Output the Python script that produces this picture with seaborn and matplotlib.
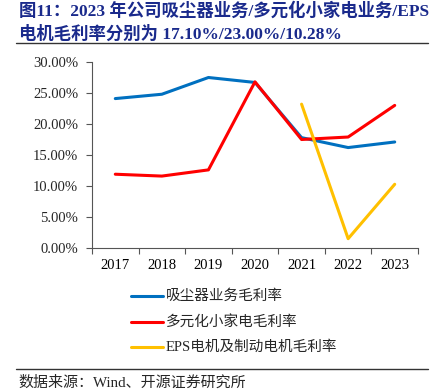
import numpy as np
import pandas as pd
import matplotlib
matplotlib.use('Agg')
import matplotlib.pyplot as plt
import seaborn as sns
from matplotlib.ticker import FuncFormatter, FixedLocator

years = ['2017', '2018', '2019', '2020', '2021', '2022', '2023']
vacuum = [24.1, 24.8, 27.5, 26.7, 17.8, 16.2, 17.10]
appliance = [11.9, 11.6, 12.6, 26.8, 17.5, 17.9, 23.00]
eps = [np.nan, np.nan, np.nan, np.nan, 23.2, 1.5, 10.28]
series_names = ['吸尘器业务毛利率', '多元化小家电毛利率', 'EPS电机及制动电机毛利率']
colors = ['#0070C0', '#FF0000', '#FFC000']

title = '图11：2023 年公司吸尘器业务/多元化小家电业务/EPS\n电机毛利率分别为 17.10%/23.00%/10.28%'
source = '数据来源：Wind、开源证券研究所'

sns.set_theme(style='white')
plt.rcParams['font.family'] = ['Liberation Serif', 'Noto Sans CJK SC']

df = pd.DataFrame({'year': years, series_names[0]: vacuum,
                   series_names[1]: appliance, series_names[2]: eps})
long = df.melt(id_vars='year', var_name='series', value_name='rate')
long['x'] = long['year'].map({y: i for i, y in enumerate(years)})

fig = plt.figure(figsize=(4.45, 3.91), dpi=100)
ax = fig.add_axes([92 / 445, 1 - 248 / 391, 326 / 445, 186 / 391])

sns.lineplot(data=long, x='x', y='rate', hue='series', hue_order=series_names,
             palette=colors, linewidth=2.2, ax=ax, legend=False)

ax.set_xlim(-0.5, len(years) - 0.5)
ax.set_ylim(0, 30)
ax.set_yticks(np.arange(0, 30.1, 5))
ax.yaxis.set_major_formatter(FuncFormatter(lambda v, p: f'{v:.2f}%'))
ax.set_xticks(range(len(years)))
ax.set_xticklabels(years)
ax.xaxis.set_minor_locator(FixedLocator(np.arange(-0.5, len(years), 1)))
ax.tick_params(axis='x', which='major', length=0, labelsize=10.5, pad=8, colors='black')
ax.tick_params(axis='x', which='minor', length=4, width=0.8, color='#555555', direction='out')
ax.tick_params(axis='y', length=4, width=0.8, color='#555555', labelsize=10.5, direction='out', pad=6)
ax.xaxis.set_tick_params(bottom=True, which='minor')
ax.yaxis.set_tick_params(left=True)
ax.set_xlabel('')
ax.set_ylabel('')
for s in ['top', 'right']:
    ax.spines[s].set_visible(False)
for s in ['left', 'bottom']:
    ax.spines[s].set_color('#555555')
    ax.spines[s].set_linewidth(0.8)

# title
fig.text(19 / 445, 0.995, title, ha='left', va='top', fontsize=12.5, fontweight='bold',
         color='#1A2A8C', linespacing=1.45,
         family=['Liberation Serif', 'Noto Sans CJK SC'])
fig.add_artist(plt.Line2D([16 / 445, 428 / 445], [1 - 43 / 391] * 2, color='#333333', lw=1))

# legend
leg_y = [296, 322, 347]
for name, c, yy in zip(series_names, colors, leg_y):
    yf = 1 - yy / 391
    fig.add_artist(plt.Line2D([131 / 445, 163 / 445], [yf, yf], color=c, lw=2.2))
    fig.text(166 / 445, yf, name, ha='left', va='center', fontsize=10.5,
             family=['Liberation Serif', 'Noto Sans CJK SC'])

fig.add_artist(plt.Line2D([16 / 445, 428 / 445], [1 - 369 / 391] * 2, color='#333333', lw=1))
fig.text(18 / 445, 1 - 383 / 391, source, ha='left', va='center', fontsize=10.8,
         family=['Liberation Serif', 'Noto Sans CJK SC'])

fig.savefig('out.png', dpi=100)
